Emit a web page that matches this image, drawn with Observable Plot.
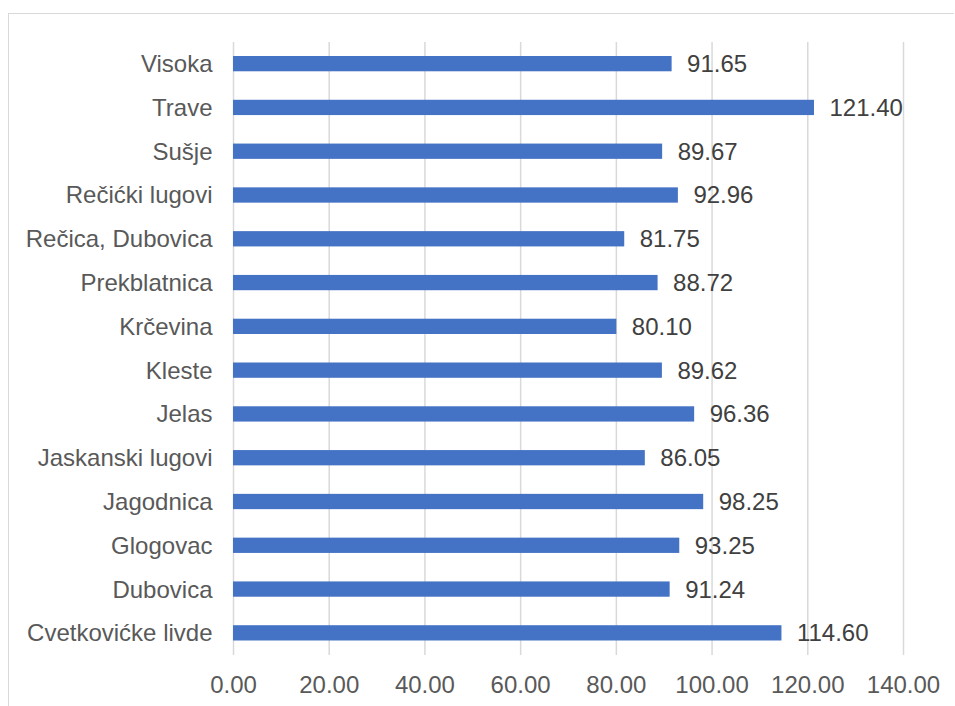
<!DOCTYPE html>
<html>
<head>
<meta charset="utf-8">
<script src="https://cdn.jsdelivr.net/npm/d3@7"></script>
<script src="https://cdn.jsdelivr.net/npm/@observablehq/plot@0.6"></script>
<style>
  html, body { margin: 0; padding: 0; background: #fff; }
  #wrap { position: relative; width: 955px; height: 706px; }
  #wrap svg { display: block; }
  #frame { position: absolute; left: 8px; top: 13px; right: 1px; bottom: 0; border-top: 1.5px solid #d9d9d9; border-left: 1.5px solid #d9d9d9; pointer-events: none; }
</style>
</head>
<body>
<div id="wrap"><div id="frame"></div></div>
<script>
const categories = ["Visoka", "Trave", "Sušje", "Rečićki lugovi", "Rečica, Dubovica", "Prekblatnica", "Krčevina", "Kleste", "Jelas", "Jaskanski lugovi", "Jagodnica", "Glogovac", "Dubovica", "Cvetkovićke livde"];
const values = [91.65, 121.40, 89.67, 92.96, 81.75, 88.72, 80.10, 89.62, 96.36, 86.05, 98.25, 93.25, 91.24, 114.60];
const xTicks = [0, 20, 40, 60, 80, 100, 120, 140];

const data = categories.map((c, i) => ({name: c, value: values[i]}));
const fmt = d3.format(".2f");

const chart = Plot.plot({
  width: 955,
  height: 706,
  marginLeft: 233,
  marginRight: 52,
  marginTop: 42,
  marginBottom: 51,
  style: {fontSize: "24px", color: "#595959", fontFamily: "'Liberation Sans', Arial, sans-serif", background: "transparent"},
  x: {domain: [0, 140], ticks: xTicks, tickFormat: fmt, label: null},
  y: {domain: categories, padding: 0, round: false, label: null},
  marks: [
    Plot.ruleX(xTicks, {stroke: "#d9d9d9", strokeWidth: 1.5}),
    Plot.barX(data, {y: "name", x: "value", fill: "#4472C4", insetTop: 14, insetBottom: 14.5}),
    Plot.text(data, {y: "name", x: "value", text: d => fmt(d.value), textAnchor: "start", dx: 15, fill: "#404040", fontSize: 24}),
    Plot.axisX({ticks: xTicks, tickFormat: fmt, tickSize: 0, tickPadding: 20, fill: "#595959", fontSize: 24, label: null}),
    Plot.axisY({tickSize: 0, tickPadding: 21, fill: "#595959", fontSize: 24, label: null})
  ]
});
document.getElementById("wrap").appendChild(chart);
</script>
</body>
</html>
